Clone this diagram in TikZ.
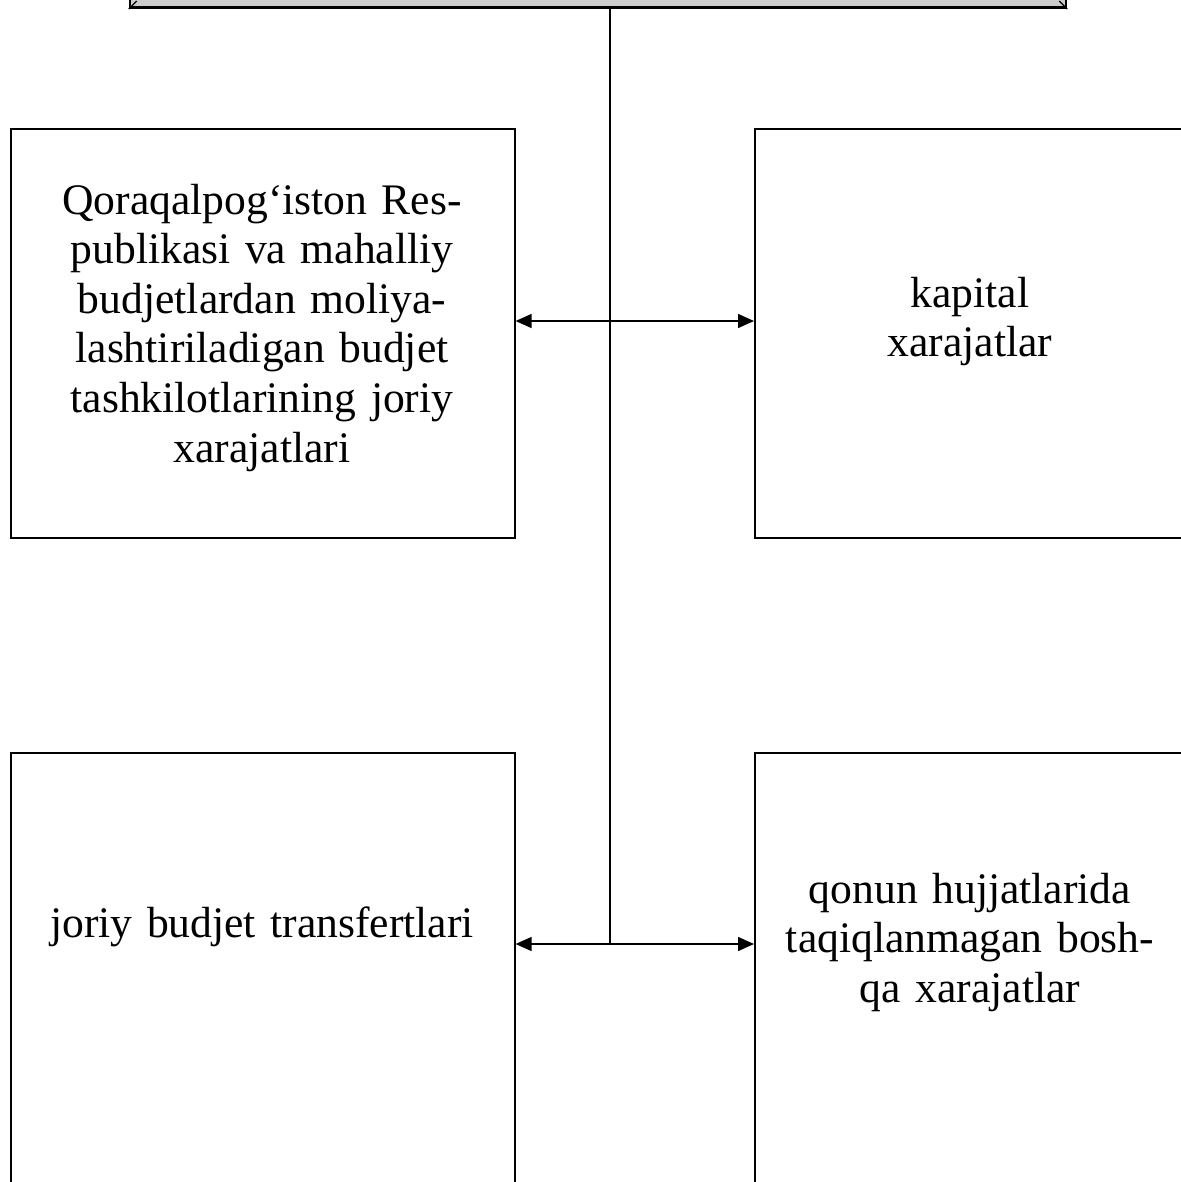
\documentclass[tikz,border=0pt]{standalone}
\usepackage{fontspec}
\setmainfont{Liberation Serif}
\usetikzlibrary{arrows.meta}
\tikzset{
  box/.style={draw,line width=0.8pt,minimum width=252pt,inner sep=0pt,anchor=north west},
  lbl/.style={text width=244pt,align=center,inner sep=0pt,anchor=base,
    font=\fontsize{21.8}{24.8}\selectfont},
  link/.style={line width=0.75pt,{Triangle[length=8pt,width=7pt]}-{Triangle[length=8pt,width=7pt]}}
}
\begin{document}
\begin{tikzpicture}[x=0.5pt,y=-0.5pt]
  \useasboundingbox (0,0) rectangle (1181,1182);
  \clip (0,0) rectangle (1181,1182);

  % top bevelled box, cut by the page edge
  \node[draw,line width=1.3pt,fill=black!20,minimum width=468pt,minimum height=60pt,
    inner sep=0pt,anchor=south] (top) at (598,9) {};
  \draw[line width=0.6pt] (top.south west) -- ++(8,-8);
  \draw[line width=0.6pt] (top.south east) -- ++(-8,-8);

  % boxes
  \node[box,minimum height=204.5pt] (lt) at (10,128) {};
  \node[box,minimum width=218pt,minimum height=204.5pt] (rt) at (754,128) {};
  \node[box,minimum height=250pt] (lb) at (10,752) {};
  \node[box,minimum width=218pt,minimum height=250pt] (rb) at (754,752) {};

  % texts
  \node[lbl] (ltt) at (262,214) {Qoraqalpog‘iston Res-\\publikasi va mahalliy\\budjetlardan moliya-\\lashtiriladigan budjet\\tashkilotlarining joriy\\xarajatlari};
  \node[lbl] (rtt) at (970,307) {kapital\\xarajatlar};
  \node[lbl] (lbt) at (262,937) {joriy budjet transfertlari};
  \node[lbl] (rbt) at (970,903) {qonun hujjatlarida\\taqiqlanmagan bosh-\\qa xarajatlar};

  % trunk and branches
  \coordinate (j1) at (610,321);
  \coordinate (j2) at (610,944);
  \draw[line width=0.75pt] (top.south -| j2) -- (j2);
  \foreach \a/\b/\j in {lt/rt/j1,lb/rb/j2}
    \draw[link] (\a.east |- \j) -- (\b.west |- \j);
\end{tikzpicture}
\end{document}
